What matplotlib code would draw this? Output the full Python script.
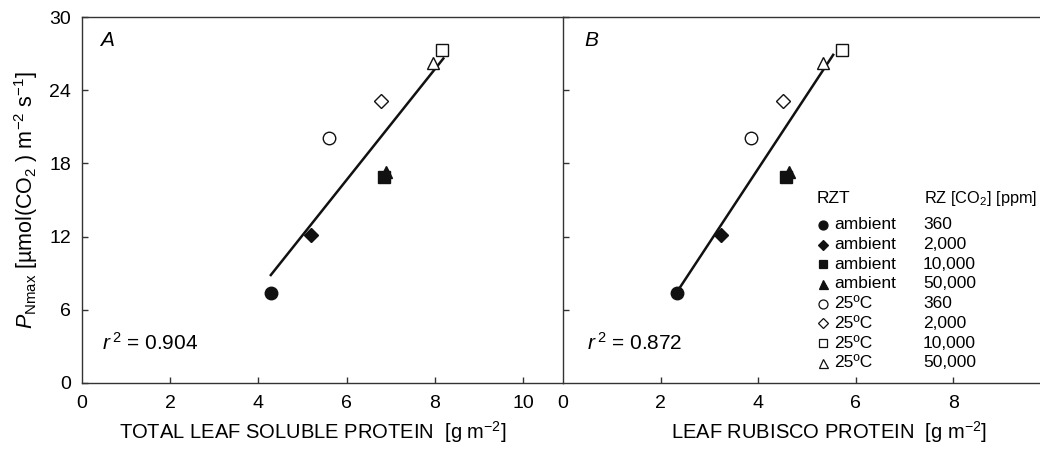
import numpy as np
import matplotlib
matplotlib.use("Agg")
import matplotlib.pyplot as plt

plt.rcParams['font.family'] = ['Liberation Sans', 'DejaVu Sans']
plt.rcParams['mathtext.fontset'] = 'custom'
plt.rcParams['mathtext.rm'] = 'Liberation Sans'
plt.rcParams['mathtext.it'] = 'Liberation Sans:italic'
plt.rcParams['mathtext.bf'] = 'Liberation Sans:bold'

# treatments: root-zone temperature and root-zone CO2
rzt = ['ambient', 'ambient', 'ambient', 'ambient', '25ºC', '25ºC', '25ºC', '25ºC']
rz_co2 = ['360', '2,000', '10,000', '50,000', '360', '2,000', '10,000', '50,000']
markers = ['o', 'D', 's', '^', 'o', 'D', 's', '^']
filled = [True, True, True, True, False, False, False, False]

# data
pnmax = [7.4, 12.1, 16.9, 17.3, 20.1, 23.1, 27.3, 26.2]
soluble_protein = [4.28, 5.19, 6.85, 6.9, 5.6, 6.78, 8.16, 7.95]
rubisco_protein = [2.34, 3.24, 4.58, 4.64, 3.86, 4.51, 5.72, 5.33]

# regression lines (end points)
fit_a_x = [4.28, 8.19]
fit_a_y = [8.85, 26.6]
fit_b_x = [2.36, 5.54]
fit_b_y = [7.6, 26.9]

r2_a = '0.904'
r2_b = '0.872'

marker_size = {'o': 9, 'D': 7, 's': 8.5, '^': 9}

fig = plt.figure(figsize=(10.4, 4.5), dpi=100)
ax_a = fig.add_axes([0.0788, 0.1489, 0.4625, 0.8133])
ax_b = fig.add_axes([0.5413, 0.1489, 0.4587, 0.8133])

spine_col = '#333333'


def draw_panel(ax, xs, fx, fy, letter, r2, letter_x):
    ax.plot(fx, fy, color='#111111', lw=1.8, zorder=2)
    for x, y, m, f in zip(xs, pnmax, markers, filled):
        ax.plot(x, y, marker=m, ms=marker_size[m], ls='none',
                mfc='#111111' if f else 'white', mec='#111111', mew=1.0, zorder=3)
    ax.set_ylim(0, 30)
    ax.set_yticks([0, 6, 12, 18, 24, 30])
    ax.tick_params(direction='in', length=4, width=1.0, color=spine_col,
                   labelsize=14, top=False, right=False)
    ax.tick_params(axis='x', pad=9)
    ax.tick_params(axis='y', pad=8)
    for s in ax.spines.values():
        s.set_color(spine_col)
        s.set_linewidth(1.0)
    ax.text(letter_x, 0.937, letter, transform=ax.transAxes, fontsize=15,
            style='italic', va='center', ha='left')
    ax.text(letter_x + 0.005, 0.11, '$r^{\\,2}$ = ' + r2, transform=ax.transAxes,
            fontsize=15, va='center', ha='left')


draw_panel(ax_a, soluble_protein, fit_a_x, fit_a_y, 'A', r2_a, 0.037)
draw_panel(ax_b, rubisco_protein, fit_b_x, fit_b_y, 'B', r2_b, 0.045)

ax_a.set_xlim(0, 10.9)
ax_a.set_xticks([0, 2, 4, 6, 8, 10])
ax_a.xaxis.get_major_ticks()[0].tick1line.set_visible(False)
ax_a.spines['right'].set_visible(False)
ax_a.set_xlabel('TOTAL LEAF SOLUBLE PROTEIN  [g m$^{-2}$]', fontsize=14.5)
ax_a.xaxis.set_label_coords(0.481, -0.098)
ax_a.set_ylabel('$P_{\\mathrm{Nmax}}$ [µmol(CO$_2$ ) m$^{-2}$ s$^{-1}$]', fontsize=15.5)
ax_a.yaxis.set_label_coords(-0.088, 0.5)

ax_b.set_xlim(0, 9.78)
ax_b.set_xticks([0, 2, 4, 6, 8])
ax_b.xaxis.get_major_ticks()[0].tick1line.set_visible(False)
ax_b.tick_params(axis='y', labelleft=False)
ax_b.yaxis.get_major_ticks()[0].tick1line.set_visible(False)
ax_b.spines['right'].set_visible(False)
ax_b.set_xlabel('LEAF RUBISCO PROTEIN  [g m$^{-2}$]', fontsize=14.5)
ax_b.xaxis.set_label_coords(0.558, -0.098)

# legend table inside panel B
ax_b.text(0.532, 0.505, 'RZT', transform=ax_b.transAxes, fontsize=12.5, va='center')
ax_b.text(0.757, 0.505, 'RZ [CO$_2$] [ppm]', transform=ax_b.transAxes,
          fontsize=11.8, va='center')
row_y0 = 0.432
row_dy = 0.0538
for i in range(len(rzt)):
    yy = row_y0 - i * row_dy
    m = markers[i]
    ax_b.plot(0.545, yy, marker=m, ms=marker_size[m] * 0.72, ls='none',
              mfc='#111111' if filled[i] else 'white', mec='#111111', mew=0.9,
              transform=ax_b.transAxes, clip_on=False)
    ax_b.text(0.568, yy, rzt[i], transform=ax_b.transAxes, fontsize=12.5, va='center')
    ax_b.text(0.755, yy, rz_co2[i], transform=ax_b.transAxes, fontsize=12.5, va='center')

fig.savefig('out.png', dpi=100)
